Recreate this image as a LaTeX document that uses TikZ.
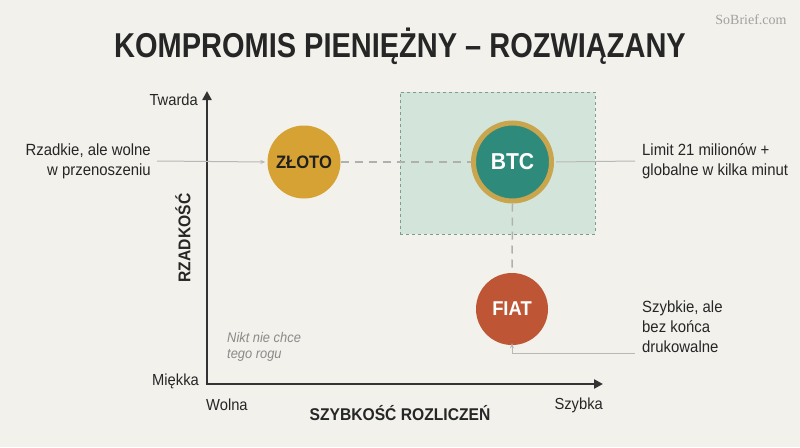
\documentclass[tikz,border=0pt]{standalone}
\usepackage{fontspec}
\setmainfont[FakeStretch=0.92]{Liberation Sans}
\newfontfamily\titlefont[FakeStretch=0.84]{Liberation Sans}
\newfontfamily\wmfont{Liberation Serif}
\usetikzlibrary{arrows.meta}
\definecolor{bg}{HTML}{F2F1EC}
\definecolor{ink}{HTML}{262626}
\definecolor{axisc}{HTML}{333333}
\definecolor{goldc}{HTML}{D6A233}
\definecolor{tealc}{HTML}{2E8A7B}
\definecolor{ringc}{HTML}{C9A54E}
\definecolor{fiatc}{HTML}{BE5535}
\definecolor{zonefill}{HTML}{D3E5DB}
\definecolor{zoneline}{HTML}{7E9C8C}
\definecolor{dashc}{HTML}{B0B0AE}
\definecolor{leadc}{HTML}{B8B8B6}
\definecolor{noteg}{HTML}{8A8A88}
\tikzset{
  lbl/.style={font=\fontsize{16.2}{20}\selectfont, text=ink, inner sep=0pt, align=left},
  lblr/.style={lbl, align=right},
  axlbl/.style={font=\fontsize{16}{19}\selectfont, text=ink, inner sep=0pt},
  coin/.style={circle, inner sep=0pt, font=\bfseries},
  dashlink/.style={draw=dashc, line width=1.5pt, dash pattern=on 8pt off 6pt},
  leader/.style={draw=leadc, line width=1pt},
  axisline/.style={draw=axisc, line width=2.6pt, -{Triangle[length=9pt,width=9pt]}}
}
\begin{document}
\begin{tikzpicture}[x=1pt,y=-1pt]
\fill[bg] (0,0) rectangle (800,447);
\useasboundingbox (0,0) rectangle (800,447);

% watermark
\node[font=\fontsize{14}{16}\selectfont\wmfont, text=noteg!80, inner sep=0pt] (wm) at (751,20) {SoBrief.com};

% title
\node[font=\fontsize{34.5}{40}\selectfont\titlefont\bfseries, text=ink, inner sep=0pt] (title) at (400,46) {KOMPROMIS PIENIĘŻNY – ROZWIĄZANY};

% zone
\node[draw=zoneline, fill=zonefill, line width=1pt, dash pattern=on 3pt off 3pt,
  minimum width=195pt, minimum height=142pt, inner sep=0pt] (zone) at (497.5,163) {};

% axes
\coordinate (origin) at (207,384);
\coordinate (ytop) at (207,91);
\coordinate (xend) at (603,384);
\draw[axisline] ([yshift=1.3pt]origin) -- (ytop);
\draw[axisline] ([xshift=-1.3pt]origin) -- (xend);

\node[axlbl, anchor=east] (twarda) at (198,100) {Twarda};
\node[axlbl, anchor=east] (miekka) at (199,381) {Miękka};
\node[axlbl, anchor=west] (wolna) at (206,405) {Wolna};
\node[axlbl, anchor=east] (szybka) at (603,405) {Szybka};
\node[font=\fontsize{17}{20}\selectfont\bfseries, text=ink, inner sep=0pt] (xtitle) at (400,413) {SZYBKOŚĆ ROZLICZEŃ};
\node[font=\fontsize{17}{20}\selectfont\bfseries, text=ink, inner sep=0pt, rotate=90] (ytitle) at (183,238) {RZADKOŚĆ};

\node[font=\fontsize{14}{16.5}\selectfont\itshape, text=noteg, inner sep=0pt, align=left, anchor=west] (note) at (227,347) {Nikt nie chce\\tego rogu};

% coins
\node[coin, fill=goldc, minimum size=73pt, text=ink!85!black, font=\fontsize{18}{20}\selectfont\bfseries] (zloto) at (304,162) {ZŁOTO};
\node[coin, fill=tealc, draw=ringc, line width=5pt, minimum size=78pt, text=white, font=\fontsize{23}{25}\selectfont\bfseries] (btc) at (512.5,162) {BTC};
\node[coin, fill=fiatc, minimum size=72pt, text=white, font=\fontsize{20}{22}\selectfont\bfseries] (fiat) at (512,309) {FIAT};

% dashed links
\draw[dashlink] (zloto.east) -- (btc.west);
\draw[dashlink] (btc.south) -- (fiat.north);

% annotations
\node[lblr, anchor=east] (lgold) at (151,161) {Rzadkie, ale wolne\\w przenoszeniu};
\node[lbl, anchor=west] (lbtc) at (642,161) {Limit 21 milionów +\\globalne w kilka minut};
\node[lbl, anchor=west] (lfiat) at (642,327) {Szybkie, ale\\bez końca\\drukowalne};

\coordinate (gstart) at (157,161);
\draw[leader, -{Stealth[length=5pt,width=4pt]}] (gstart) -- ([xshift=-2pt]zloto.west);
\coordinate (bend) at (635,161);
\draw[leader] ([xshift=2pt]btc.east) -- (bend);
\coordinate (fstart) at (635,353);
\coordinate (fcorner) at (512,353);
\draw[leader, -{Stealth[length=5pt,width=4pt]}] (fstart) -- (fcorner) -- ([yshift=2pt]fiat.south);
\end{tikzpicture}
\end{document}
